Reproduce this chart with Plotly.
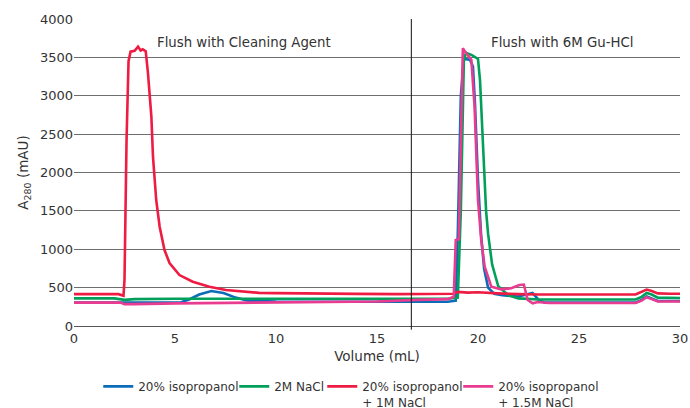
import plotly.graph_objects as go

# ---- data ----
blue_name = "20% isopropanol"
blue_x = [0, 2.5, 5.3, 5.7, 6.2, 6.8, 7.4, 8.0, 8.6, 10, 15, 18.5, 18.9, 19.0, 19.15, 19.3, 19.6,
          19.75, 19.85, 20.0, 20.15, 20.3, 20.5, 20.8, 21.2, 22, 22.4, 22.7, 23.0, 23.3, 27.8,
          28.1, 28.35, 28.6, 28.9, 29.5, 30]
blue_y = [305, 305, 310, 345, 410, 455, 430, 370, 330, 318, 315, 315, 330, 1200, 3000, 3480, 3470,
          3380, 2900, 1900, 1200, 750, 500, 420, 400, 385, 410, 430, 340, 305, 305,
          340, 385, 360, 325, 325, 325]

green_name = "2M NaCl"
green_x = [0, 2.0, 2.5, 3.0, 5, 10, 15, 18.5, 19.0, 19.15, 19.3, 19.4, 19.7, 20.0, 20.1, 20.2,
           20.3, 20.4, 20.5, 20.7, 21.0, 21.5, 22, 23, 27.8, 28.1, 28.35, 28.6, 28.9, 29.5, 30]
green_y = [360, 360, 340, 350, 355, 355, 355, 355, 370, 1500, 3450, 3560, 3530, 3480, 3200, 2600,
           1950, 1500, 1200, 800, 520, 400, 360, 345, 345, 380, 430, 410, 370, 370, 365]

red_name = "20% isopropanol<br>+ 1M NaCl"
red_x = [0, 2.2, 2.45, 2.5, 2.6, 2.7, 2.8, 3.0, 3.17, 3.3, 3.4, 3.55, 3.66, 3.75, 3.83, 3.91,
         4.07, 4.24, 4.48, 4.73, 5.22, 5.88, 6.7, 7.52, 8.3, 9.16, 10, 12, 14, 16, 17, 18,
         18.8, 19.0, 19.5, 20.0, 20.5, 21.0, 22.0, 23, 27.8, 28.1, 28.35, 28.6, 28.9, 29.5, 30]
red_y = [415, 415, 395, 600, 2400, 3450, 3575, 3585, 3640, 3590, 3605, 3580, 3300, 3000, 2727, 2206,
         1642, 1294, 990, 820, 664, 577, 512, 469, 448, 432, 428, 420, 418, 415, 420, 420,
         420, 445, 435, 440, 430, 425, 415, 410, 410, 440, 475, 455, 425, 420, 420]

pink_name = "20% isopropanol<br>+ 1.5M NaCl"
pink_x = [0, 2.3, 2.5, 3.0, 5, 10, 15, 17, 18.5, 18.8, 18.9, 19.05, 19.15, 19.25, 19.32, 19.5,
          19.67, 19.83, 19.92, 20.0, 20.16, 20.33, 20.66, 21.15, 21.64, 22.05, 22.27, 22.46,
          22.71, 22.96, 23.5, 27.8, 28.1, 28.35, 28.6, 28.9, 29.5, 30]
pink_y = [305, 305, 285, 285, 295, 305, 320, 340, 350, 380, 1120, 1130, 2500, 3620, 3590, 3530,
          3470, 2857, 2206, 1642, 1120, 773, 512, 478, 491, 534, 540, 339,
          296, 313, 300, 300, 330, 375, 350, 320, 320, 320]

y_ticks = [0, 500, 1000, 1500, 2000, 2500, 3000, 3500, 4000]
x_ticks = [0, 5, 10, 15, 20, 25, 30]
divider_x = 16.7
label_left = "Flush with Cleaning Agent"
label_right = "Flush with 6M Gu-HCl"

FONT = "DejaVu Sans, Verdana, sans-serif"
TXT = "#333333"

fig = go.Figure()
series = [
    (blue_name, blue_x, blue_y, "#0b6db7", 91),
    (green_name, green_x, green_y, "#00a05a", 43),
    (red_name, red_x, red_y, "#ee1c42", 91),
    (pink_name, pink_x, pink_y, "#e93b8f", 100),
]
for name, xs, ys, col, lw in series:
    fig.add_trace(go.Scatter(x=xs, y=ys, mode="lines", name=name, legendwidth=lw,
                             line=dict(color=col, width=2.6)))

fig.add_shape(type="line", xref="x", yref="paper", x0=divider_x, x1=divider_x,
              y0=-0.012, y1=1, line=dict(color="#111111", width=1))

fig.add_annotation(x=8.42, y=3700, text=label_left, showarrow=False,
                   font=dict(size=13.3, color=TXT, family=FONT))
fig.add_annotation(x=24.16, y=3700, text=label_right, showarrow=False,
                   font=dict(size=13.3, color=TXT, family=FONT))

fig.update_layout(
    width=690, height=408,
    margin=dict(l=74, r=10, t=19, b=82, autoexpand=False),
    paper_bgcolor="white", plot_bgcolor="white",
    font=dict(family=FONT, size=13, color=TXT),
    showlegend=True,
    legend=dict(orientation="h", x=0.04, xanchor="left", y=-0.15, yanchor="top",
                valign="top", font=dict(size=12, color=TXT, family=FONT),
                tracegroupgap=0, itemwidth=30),
    xaxis=dict(range=[0, 30], tickvals=x_ticks, showgrid=False, zeroline=False,
               showline=False, ticks="", tickfont=dict(size=13), ticklabelstandoff=3,
               title=dict(text="Volume (mL)", font=dict(size=13.5), standoff=6)),
    yaxis=dict(range=[0, 4000], tickvals=y_ticks, showgrid=True, gridcolor="#6e6e6e",
               gridwidth=1, zeroline=True, zerolinecolor="#555555", zerolinewidth=1,
               showline=False, ticks="", tickfont=dict(size=13),
               title=dict(text="A<sub>280</sub> (mAU)", font=dict(size=13.5), standoff=8)),
)

fig.write_html("out.html")
